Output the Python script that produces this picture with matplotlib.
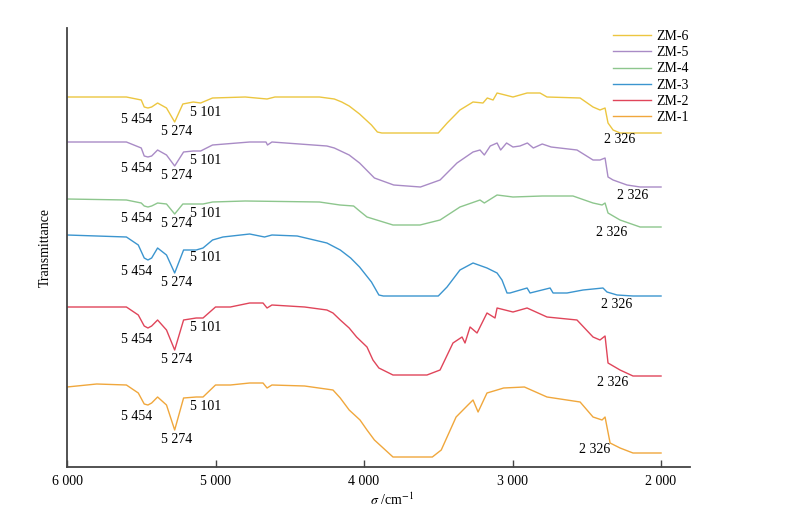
import numpy as np
import matplotlib
matplotlib.use('Agg')
import matplotlib.pyplot as plt

plt.rcParams['font.family'] = ['Liberation Serif', 'DejaVu Serif']
plt.rcParams['mathtext.fontset'] = 'stix'
plt.rcParams['font.size'] = 10

# spectra (wavenumber / cm-1, stacked transmittance in plot units)
wn6 = [6000, 5600, 5500, 5480, 5455, 5430, 5390, 5330, 5275, 5220, 5150, 5100, 5020, 4800, 4653,
       4600, 4300, 4200, 4150, 4100, 4030, 3950, 3910, 3880, 3500, 3440, 3354, 3266, 3199, 3170,
       3131, 3104, 3050, 2997, 2902, 2815, 2768, 2545, 2458, 2411, 2377, 2357, 2323, 2276, 2000]
t6 = [370, 370, 367, 360, 359, 360, 364, 359, 345, 363, 365, 364, 369, 370, 368,
      370, 370, 368, 365, 361, 353, 342, 335, 334, 334, 344, 357, 365, 364, 369,
      367, 374, 372, 370, 374, 374, 370, 369, 360, 357, 359, 344, 337, 334, 334]

wn5 = [6000, 5600, 5500, 5480, 5455, 5430, 5390, 5330, 5275, 5215, 5150, 5100, 5020, 4770, 4660,
       4650, 4620, 4250, 4200, 4100, 4030, 3930, 3800, 3620, 3488, 3374, 3266, 3219, 3190, 3150,
       3104, 3080, 3040, 2997, 2950, 2900, 2860, 2800, 2740, 2566, 2458, 2411, 2377, 2357, 2323,
       2229, 2141, 2000]
t5 = [325, 325, 319, 311, 310, 311, 317, 312, 301, 315, 316, 316, 322, 325, 325,
      322, 325, 321, 319, 312, 304, 289, 282, 280, 287, 304, 315, 317, 312, 321,
      324, 317, 324, 320, 321, 324, 319, 323, 320, 317, 307, 307, 309, 290, 287,
      282, 280, 280]

wn4 = [6000, 5600, 5500, 5480, 5455, 5430, 5390, 5330, 5275, 5220, 5130, 5084, 5020, 4800, 4300,
       4162, 4070, 4030, 3980, 3805, 3623, 3488, 3354, 3219, 3190, 3104, 2997, 2800, 2593, 2458,
       2397, 2377, 2357, 2276, 2141, 2000]
t4 = [268, 267, 264, 261, 260, 261, 264, 263, 253, 263, 263, 263, 265, 266, 265,
      262, 261, 256, 250, 242, 242, 247, 260, 267, 264, 272, 270, 271, 271, 264,
      262, 264, 254, 247, 240, 240]

wn3 = [6000, 5600, 5520, 5480, 5455, 5430, 5390, 5330, 5275, 5215, 5130, 5084, 5020, 4950, 4770,
       4670, 4620, 4450, 4250, 4160, 4090, 4030, 3950, 3900, 3870, 3500, 3441, 3354, 3266, 3172,
       3104, 3071, 3037, 3017, 2902, 2882, 2747, 2727, 2633, 2525, 2391, 2364, 2296, 2189, 2000]
t3 = [232, 230, 222, 209, 207, 209, 219, 212, 194, 217, 217, 219, 227, 230, 233,
      230, 232, 231, 224, 217, 209, 200, 185, 172, 171, 171, 180, 197, 204, 199,
      194, 187, 174, 174, 179, 174, 179, 174, 174, 177, 179, 175, 172, 171, 171]

wn2 = [6000, 5600, 5520, 5480, 5455, 5430, 5390, 5330, 5275, 5215, 5130, 5084, 5000, 4900, 4770,
       4680, 4653, 4620, 4400, 4250, 4209, 4160, 4100, 4050, 3980, 3940, 3900, 3805, 3576, 3488,
       3401, 3340, 3320, 3286, 3239, 3172, 3118, 3104, 2997, 2902, 2768, 2566, 2458, 2411, 2377,
       2357, 2276, 2189, 2000]
t2 = [160, 160, 152, 141, 139, 141, 147, 137, 117, 147, 149, 149, 160, 160, 164,
      164, 159, 162, 160, 157, 154, 147, 139, 130, 120, 107, 99, 92, 92, 97,
      124, 130, 124, 140, 134, 154, 149, 159, 155, 159, 150, 147, 130, 127, 131,
      104, 97, 91, 91]

wn1 = [6000, 5800, 5600, 5520, 5480, 5455, 5430, 5390, 5330, 5275, 5215, 5130, 5084, 5000, 4900,
       4770, 4680, 4653, 4620, 4400, 4209, 4160, 4100, 4027, 3980, 3930, 3805, 3540, 3480, 3380,
       3300, 3266, 3232, 3172, 3104, 3060, 2920, 2768, 2545, 2458, 2397, 2377, 2343, 2276, 2189,
       2000]
t1 = [80, 83, 82, 74, 63, 62, 64, 70, 62, 37, 69, 70, 70, 82, 82,
      84, 84, 79, 82, 81, 77, 69, 57, 47, 37, 27, 10, 10, 17, 50,
      62, 67, 55, 74, 77, 79, 80, 70, 65, 50, 47, 50, 24, 19, 14,
      14]

names = ['ZM-6', 'ZM-5', 'ZM-4', 'ZM-3', 'ZM-2', 'ZM-1']
wns = [wn6, wn5, wn4, wn3, wn2, wn1]
ts = [t6, t5, t4, t3, t2, t1]
colors = ['#ecc640', '#a98bc6', '#8dc68d', '#3b95cf', '#e0455a', '#f0a73c']

peaks = [5454, 5274, 5101]
peak_labels = ['5 454', '5 274', '5 101']
peak_offsets = [(-8, -8), (1.5, -7), (4, -6.5)]   # points
band_label = '2 326'
band_text_x = [2276, 2189, 2330, 2296, 2323, 2444]
band_text_dy = [-5, -6, -4, -6, -4.5, 2.5]

fig = plt.figure(figsize=(7.96, 5.13), dpi=100)
ax = fig.add_axes([67 / 796, 46 / 513, 623 / 796, 439 / 513])

for name, wn, t, c, bx, bdy in zip(names, wns, ts, colors, band_text_x, band_text_dy):
    ax.plot(wn, t, color=c, lw=1.0, label=name)
    wn_r, t_r = np.array(wn)[::-1], np.array(t)[::-1]
    for p, lab, (dx, dy) in zip(peaks, peak_labels, peak_offsets):
        ax.annotate(lab, xy=(p, np.interp(p, wn_r, t_r)), xytext=(dx, dy),
                    textcoords='offset points', ha='center', va='center')
    ax.annotate(band_label, xy=(bx, t[-1]), xytext=(0, bdy),
                textcoords='offset points', ha='center', va='center')

ax.set_xlim(6000, 1805)
ax.set_ylim(0, 439)
ax.set_xticks([6000, 5000, 4000, 3000, 2000])
ax.set_xticklabels(['6 000', '5 000', '4 000', '3 000', '2 000'])
ax.set_yticks([])
ax.tick_params(axis='x', direction='in', length=5, width=1, pad=6, color='#444444')
for side in ['top', 'right']:
    ax.spines[side].set_visible(False)
for side in ['left', 'bottom']:
    ax.spines[side].set_color('#444444')
    ax.spines[side].set_linewidth(1.3)

ax.set_xlabel(r'$\sigma$ /cm$^{-1}$')
ax.xaxis.set_label_coords(0.522, -0.055)
ax.set_ylabel('Transmittance')
ax.yaxis.set_label_coords(-0.025, 0.5)

ax.legend(loc='upper left', bbox_to_anchor=(613 / 796, 1 - 30 / 513),
          bbox_transform=fig.transFigure, frameon=False, borderpad=0,
          borderaxespad=0, handlelength=2.7, handletextpad=0.4, labelspacing=0.23)

fig.savefig('out.png', dpi=100)
